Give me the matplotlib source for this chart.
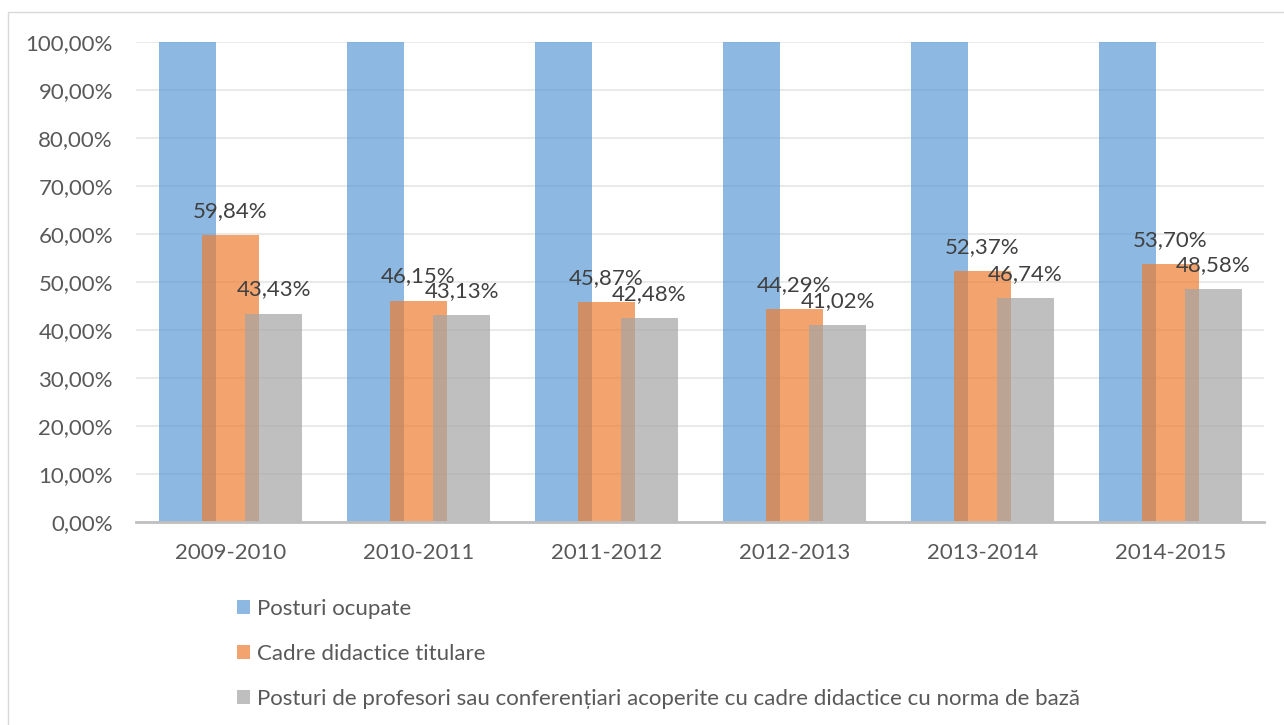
import matplotlib.pyplot as plt
import numpy as np
from matplotlib.patches import Rectangle, Patch

ani = ['2009-2010', '2010-2011', '2011-2012', '2012-2013', '2013-2014', '2014-2015']
posturi_ocupate = [100.0, 100.0, 100.0, 100.0, 100.0, 100.0]
cadre_titulare = [59.84, 46.15, 45.87, 44.29, 52.37, 53.70]
norma_baza = [43.43, 43.13, 42.48, 41.02, 46.74, 48.58]

serii = ['Posturi ocupate',
         'Cadre didactice titulare',
         'Posturi de profesori sau conferențiari acoperite cu cadre didactice cu norma de bază']
culori = ['#5B9BD5', '#ED7D31', '#A5A5A5']

plt.rcParams['font.family'] = ['Lato', 'DejaVu Sans']
fs = 16

fig = plt.figure(figsize=(12.84, 7.25), dpi=100)
ax = fig.add_axes([0.1063, 0.28, 0.8785, 0.662])

x = np.arange(len(ani))
latime = 0.303
pas = 0.229

ax.bar(x - pas, posturi_ocupate, latime, color=culori[0], alpha=0.7, zorder=2)
b2 = ax.bar(x, cadre_titulare, latime, color=culori[1], alpha=0.7, zorder=3)
b3 = ax.bar(x + pas, norma_baza, latime, color=culori[2], alpha=0.7, zorder=4)

def eticheta(v):
    return f'{v:.2f}%'.replace('.', ',')

for bare, valori in [(b2, cadre_titulare), (b3, norma_baza)]:
    for b, v in zip(bare, valori):
        ax.annotate(eticheta(v), (b.get_x() + b.get_width() / 2, v),
                    xytext=(0, 17.3), textcoords='offset points',
                    ha='center', va='center', fontsize=fs, color='#404040', zorder=6)

ax.set_xlim(-0.5, len(ani) - 0.5)
ax.set_ylim(0, 100)
ax.set_yticks(np.arange(0, 101, 10))
ax.set_yticklabels([f'{t},00%' for t in range(0, 101, 10)])
ax.set_xticks(x)
ax.set_xticklabels(ani)
ax.tick_params(axis='both', length=0, labelsize=fs, labelcolor='#595959')
ax.tick_params(axis='x', pad=15)
ax.tick_params(axis='y', pad=17)

ax.grid(axis='y', color='#E6E6E6', linewidth=1.2, zorder=0)
ax.set_axisbelow(True)
for s in ['top', 'right', 'left']:
    ax.spines[s].set_visible(False)
ax.spines['bottom'].set_color('#BFBFBF')
ax.spines['bottom'].set_linewidth(2)
ax.spines['bottom'].set_zorder(7)

handles = [Patch(facecolor=c, alpha=0.7) for c in culori]
fig.legend(handles, serii, loc='upper left', bbox_to_anchor=(0.1846, 0.174),
           frameon=False, fontsize=fs, labelcolor='#595959',
           handlelength=0.6, handleheight=0.6, handletextpad=0.3,
           labelspacing=1.13, borderpad=0, borderaxespad=0)

fig.patches.append(Rectangle((8 / 1284, -0.01), 1.0, 1 - 12 / 725 + 0.01,
                             transform=fig.transFigure, fill=False,
                             edgecolor='#D9D9D9', linewidth=1))

fig.savefig('out.png', dpi=100)
